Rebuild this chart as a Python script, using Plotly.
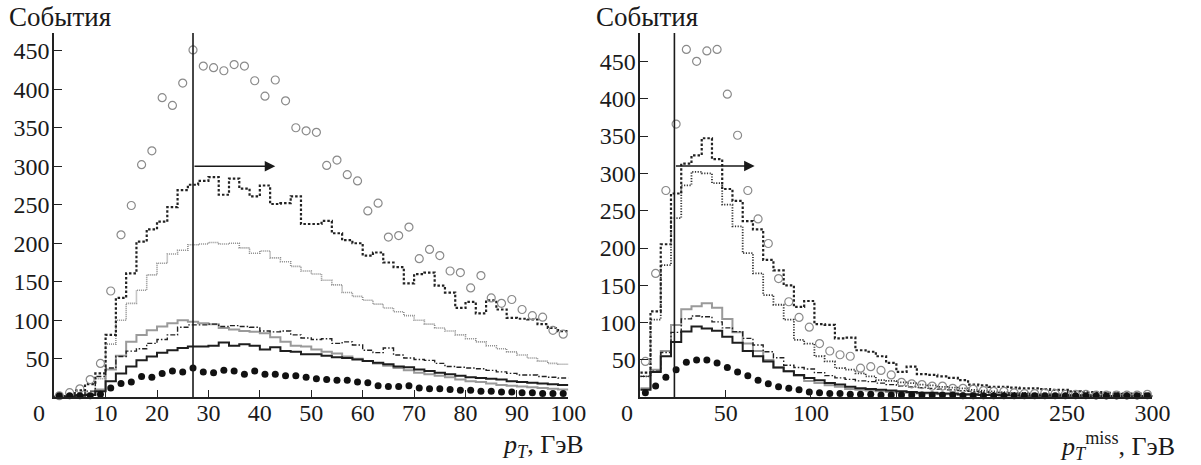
import numpy as np
import plotly.graph_objects as go

W, H = 1201, 465

# ---------------- Left panel: p_T, bins of 2 GeV ----------------
L_BIN = 2
L_open = [2, 6, 11, 23, 44, 138, 211, 249, 302, 320, 389, 379, 408, 451, 430, 428, 424, 432, 430, 411,
          391, 412, 385, 350, 346, 344, 301, 308, 289, 281, 242, 252, 208, 210, 221, 180, 192, 184, 164, 162,
          142, 158, 129, 122, 127, 114, 106, 104, 87, 82]
L_dot = [1, 3, 9, 17, 31, 81, 129, 161, 202, 218, 228, 247, 269, 276, 281, 286, 263, 284, 271, 261,
         275, 251, 252, 261, 225, 225, 229, 213, 204, 200, 184, 188, 175, 169, 148, 160, 162, 145, 136, 116,
         124, 109, 126, 114, 103, 102, 101, 95, 90, 86]
L_grayDot = [0, 1, 2, 4, 24, 69, 100, 122, 139, 159, 174, 186, 191, 198, 199, 201, 199, 200, 194, 187,
             190, 181, 176, 170, 164, 160, 152, 146, 136, 131, 126, 121, 116, 111, 106, 100, 95, 90, 86, 81,
             76, 72, 67, 63, 59, 55, 51, 47, 44, 43]
L_gray = [0, 1, 3, 5, 10, 36, 54, 72, 81, 87, 92, 96, 100, 98, 96, 95, 90, 88, 86, 85,
          83, 78, 72, 67, 66, 62, 59, 57, 53, 50, 47, 44, 41, 38, 35, 32, 30, 28, 26, 23,
          21, 20, 18, 16, 15, 14, 13, 12, 11, 10]
L_dashdot = [0, 1, 3, 8, 27, 38, 53, 60, 63, 70, 75, 81, 91, 94, 94, 95, 92, 93, 92, 91,
             86, 85, 86, 81, 77, 75, 76, 70, 72, 68, 61, 58, 64, 55, 51, 49, 48, 44, 40, 39,
             38, 37, 35, 33, 31, 29, 29, 27, 26, 25]
L_black = [0, 1, 2, 3, 8, 21, 31, 40, 48, 53, 58, 61, 64, 66, 66, 67, 71, 67, 69, 67,
           62, 65, 60, 59, 56, 56, 54, 52, 51, 49, 47, 45, 43, 40, 39, 36, 34, 32, 30, 28,
           26, 25, 24, 23, 21, 20, 19, 18, 17, 16]
L_filled = [2, 2, 2, 2, 4, 12, 18, 20, 27, 26, 31, 34, 33, 38, 33, 32, 35, 34, 30, 34,
            30, 30, 28, 28, 26, 24, 23, 22, 22, 20, 19, 15, 14, 14, 15, 12, 11, 11, 10, 9,
            9, 8, 8, 7, 7, 6, 6, 5, 5, 5]
L_cut, L_arrow_end, L_arrow_y = 27, 43, 300
L_xticks = [10, 20, 30, 40, 50, 60, 70, 80, 90, 100]
L_yticks = [50, 100, 150, 200, 250, 300, 350, 400, 450]

# ---------------- Right panel: p_T^miss, bins of 6 GeV ----------------
R_BIN = 6
R_open = [48, 166, 277, 366, 466, 450, 464, 466, 406, 351, 277, 239, 206, 159, 128, 107, 94, 72, 62, 57,
          55, 39, 41, 36, 30, 20, 18, 17, 15, 15, 12, 12, 11, 9, 8, 8, 6, 5, 5, 6,
          5, 4, 4, 4, 3, 3, 3, 3, 3, 4]
R_dot = [33, 115, 205, 273, 313, 324, 347, 319, 279, 263, 236, 225, 184, 170, 150, 121, 129, 98, 97, 79,
         80, 63, 61, 55, 46, 34, 41, 31, 30, 28, 26, 23, 17, 16, 14, 14, 13, 12, 12, 11,
         10, 10, 8, 7, 7, 6, 6, 5, 5, 5]
R_fineDot = [28, 104, 177, 240, 284, 302, 300, 287, 258, 229, 193, 166, 137, 124, 104, 77, 72, 55, 48, 39,
             37, 32, 28, 23, 22, 20, 19, 17, 16, 14, 13, 12, 10, 9, 8, 7, 6, 6, 5, 5,
             4, 4, 3, 3, 3, 2, 2, 2, 2, 2]
R_gray = [12, 37, 62, 97, 118, 122, 126, 120, 105, 87, 72, 62, 50, 40, 35, 29, 22, 19, 16, 14,
          11, 10, 9, 8, 7, 6, 6, 5, 5, 4, 4, 3, 3, 3, 3, 2, 2, 2, 2, 2,
          2, 1, 1, 1, 1, 1, 1, 1, 1, 1]
R_dashdot = [28, 35, 60, 87, 105, 109, 108, 101, 93, 88, 79, 70, 61, 53, 43, 40, 38, 33, 29, 26,
             24, 22, 21, 19, 17, 15, 14, 13, 12, 11, 10, 9, 8, 7, 6, 6, 5, 5, 4, 4,
             4, 3, 3, 3, 2, 2, 2, 2, 2, 2]
R_black = [10, 34, 55, 74, 88, 95, 92, 89, 81, 73, 62, 55, 48, 40, 35, 30, 26, 23, 19, 17,
           14, 12, 11, 10, 9, 8, 7, 6, 6, 5, 5, 4, 4, 3, 3, 3, 3, 2, 2, 2,
           2, 2, 2, 2, 1, 1, 1, 1, 1, 1]
R_filled = [6, 15, 27, 37, 47, 50, 50, 46, 40, 34, 29, 23, 18, 14, 12, 10, 7, 6, 5, 5,
            4, 4, 4, 3, 3, 3, 3, 3, 3, 3, 3, 2, 2, 2, 2, 2, 2, 2, 2, 2,
            2, 2, 2, 2, 2, 2, 2, 2, 2, 2]
R_cut, R_arrow_end, R_arrow_y = 20, 67, 310
R_xticks = [50, 100, 150, 200, 250, 300]
R_yticks = [50, 100, 150, 200, 250, 300, 350, 400, 450]

SERIF = "Liberation Serif"
AX = "#222222"
FS = 24

fig = go.Figure()


def add_panel(fig, xa, ya, binw, open_pts, dot, second, second_style, gray, dashdot, black, filled):
    n = len(open_pts)
    edges = np.arange(n + 1) * binw
    centers = edges[:-1] + binw / 2

    def hist(vals, color, width, dash):
        fig.add_trace(go.Scatter(x=edges, y=list(vals) + [vals[-1]], mode="lines",
                                 line=dict(color=color, width=width, dash=dash, shape="hv"),
                                 xaxis=xa, yaxis=ya, showlegend=False, hoverinfo="skip",
                                 cliponaxis=False))

    hist(gray, "#9a9a9a", 2.0, "solid")
    hist(second, *second_style)
    hist(dashdot, "#222222", 1.4, "5px,2px,1.5px,2px")
    hist(black, "#1e1e1e", 2.0, "solid")
    hist(dot, "#222222", 2.2, "2.5px,2px")
    fig.add_trace(go.Scatter(x=centers, y=open_pts, mode="markers",
                             marker=dict(symbol="circle-open", size=8, color="#8a8a8a",
                                         line=dict(width=1.2, color="#8a8a8a")),
                             xaxis=xa, yaxis=ya, showlegend=False, cliponaxis=False))
    fig.add_trace(go.Scatter(x=centers, y=filled, mode="markers",
                             marker=dict(symbol="circle", size=7, color="#111111"),
                             xaxis=xa, yaxis=ya, showlegend=False, cliponaxis=False))


add_panel(fig, "x", "y", L_BIN, L_open, L_dot, L_grayDot, ("#8f8f8f", 1.6, "1px,1px"),
          L_gray, L_dashdot, L_black, L_filled)
add_panel(fig, "x2", "y2", R_BIN, R_open, R_dot, R_fineDot, ("#333333", 1.8, "1.2px,1.5px"),
          R_gray, R_dashdot, R_black, R_filled)

ydom = [1 - 397.3 / H, 1 - 33 / H]
tickfont = dict(family=SERIF, size=FS, color="#1a1a1a")
common = dict(showline=True, linecolor=AX, linewidth=1.6, ticks="inside", ticklen=8, tickwidth=1.4,
              tickcolor=AX, showgrid=False, zeroline=False, tickfont=tickfont)

fig.update_layout(
    width=W, height=H, margin=dict(l=0, r=0, t=0, b=0),
    paper_bgcolor="white", plot_bgcolor="white", showlegend=False,
    font=dict(family=SERIF),
    xaxis=dict(domain=[55 / W, 577 / W], range=[0, 100], anchor="y", tickvals=L_xticks,
               ticklabelstandoff=-7, **common),
    yaxis=dict(domain=ydom, range=[0, 473], anchor="x", tickvals=L_yticks,
               ticklabelstandoff=-2, **common),
    xaxis2=dict(domain=[650 / W, 1170 / W], range=[0, 300], anchor="y2", tickvals=R_xticks,
                ticklabelstandoff=-7, **common),
    yaxis2=dict(domain=ydom, range=[0, 488], anchor="x2", tickvals=R_yticks,
                ticklabelstandoff=-2, **common),
)

# cut lines
fig.add_shape(type="line", xref="x", yref="y", x0=L_cut, x1=L_cut, y0=0, y1=473,
              line=dict(color="#1a1a1a", width=1.6))
fig.add_shape(type="line", xref="x2", yref="y2", x0=R_cut, x1=R_cut, y0=0, y1=488,
              line=dict(color="#1a1a1a", width=1.6))
# arrows
fig.add_annotation(x=L_arrow_end, y=L_arrow_y, ax=L_cut, ay=L_arrow_y, xref="x", yref="y",
                   axref="x", ayref="y", showarrow=True, arrowhead=2, arrowsize=1.4,
                   arrowwidth=1.5, arrowcolor="#1a1a1a", text="")
fig.add_annotation(x=R_arrow_end, y=R_arrow_y, ax=R_cut, ay=R_arrow_y, xref="x2", yref="y2",
                   axref="x2", ayref="y2", showarrow=True, arrowhead=2, arrowsize=1.4,
                   arrowwidth=1.5, arrowcolor="#1a1a1a", text="")


def ann(text, x, y, size=FS):
    fig.add_annotation(text=text, x=x / W, y=1 - y / H, xref="paper", yref="paper",
                       xanchor="center", yanchor="middle", showarrow=False,
                       font=dict(family=SERIF, size=size, color="#1a1a1a"))


ann("События", 61, 17, size=27)
ann("События", 657, 17, size=27)
ann("0", 40, 413)
ann("0", 637, 413)
ann("<i>p</i><sub><i>T</i></sub>, ГэВ", 551, 446, size=26)
ann("<i>p</i><sub><i>T</i></sub><sup>miss</sup>, ГэВ", 1135, 446, size=26)

fig.write_html("out.html")
